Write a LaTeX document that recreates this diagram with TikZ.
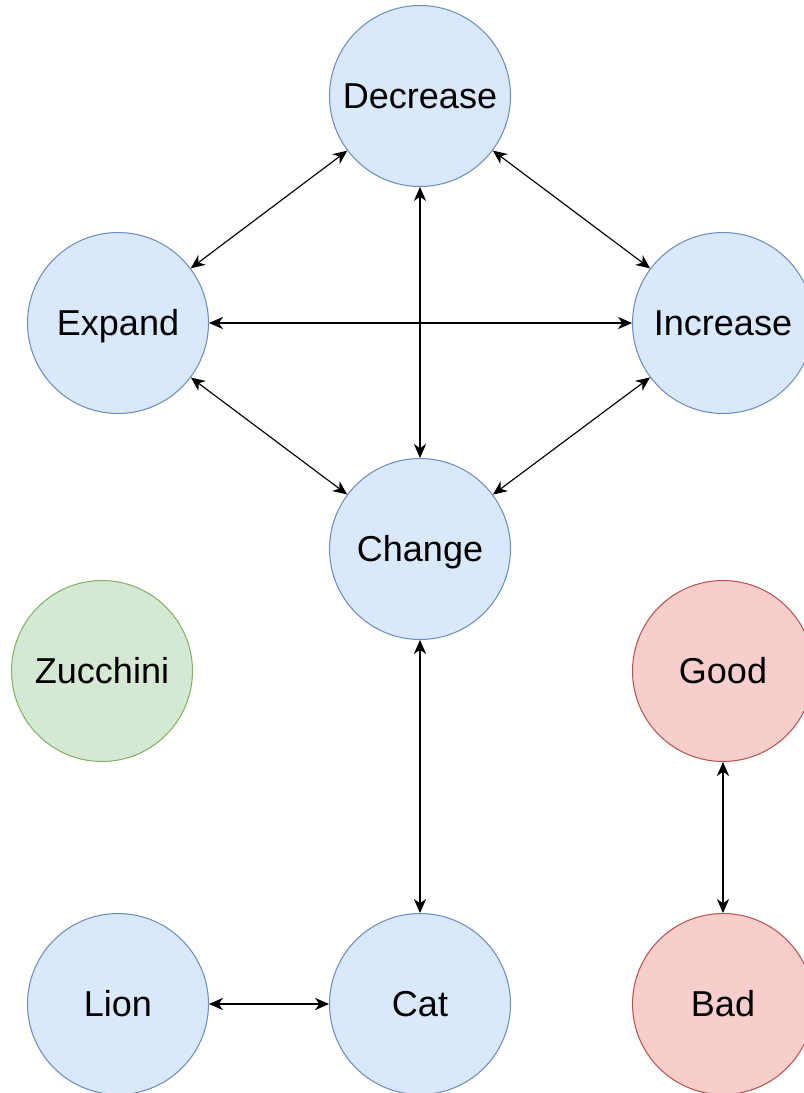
\documentclass[tikz,border=0pt]{standalone}
\usepackage{fontspec}
\setmainfont{Liberation Sans}
\usepackage{tikz}
\usetikzlibrary{positioning, arrows, arrows.meta}

\definecolor{blueFill}{HTML}{DAE8FC}
\definecolor{blueLine}{HTML}{6C8EBF}
\definecolor{greenFill}{HTML}{D5E8D4}
\definecolor{greenLine}{HTML}{82B366}
\definecolor{redFill}{HTML}{F8CECC}
\definecolor{redLine}{HTML}{B85450}

\begin{document}
\begin{tikzpicture}[x=0.02cm, y=-0.02cm,
  state/.style={circle, draw=blueLine, fill=blueFill, line width=0.6pt,
    minimum size=3.62cm, inner sep=0pt, text height=14.7pt, text depth=0pt,
    font=\fontsize{20.5}{24}\selectfont},
  veggie/.style={state, draw=greenLine, fill=greenFill},
  mood/.style={state, draw=redLine, fill=redFill},
  link/.style={{Stealth[length=8pt,width=7pt,inset=2.5pt]}-{Stealth[length=8pt,width=7pt,inset=2.5pt]}, line width=0.65pt, black}]
\useasboundingbox (0,0) rectangle (804,1093);

\node[state] (decrease) at (420,96) {Decrease};
\node[state] (expand) at (118,323) {Expand};
\node[state] (increase) at (723,323) {Increase};
\node[state] (change) at (420,549) {Change};
\node[veggie] (zucchini) at (102,671) {Zucchini};
\node[mood] (good) at (723,671) {Good};
\node[state] (lion) at (118,1004) {Lion};
\node[state] (cat) at (420,1004) {Cat};
\node[mood] (bad) at (723,1004) {Bad};

\draw[link] (expand) -- (decrease);
\draw[link] (decrease) -- (increase);
\draw[link] (expand) -- (increase);
\draw[link] (decrease) -- (change);
\draw[link] (expand) -- (change);
\draw[link] (increase) -- (change);
\draw[link] (change) -- (cat);
\draw[link] (lion) -- (cat);
\draw[link] (good) -- (bad);
\end{tikzpicture}
\end{document}
